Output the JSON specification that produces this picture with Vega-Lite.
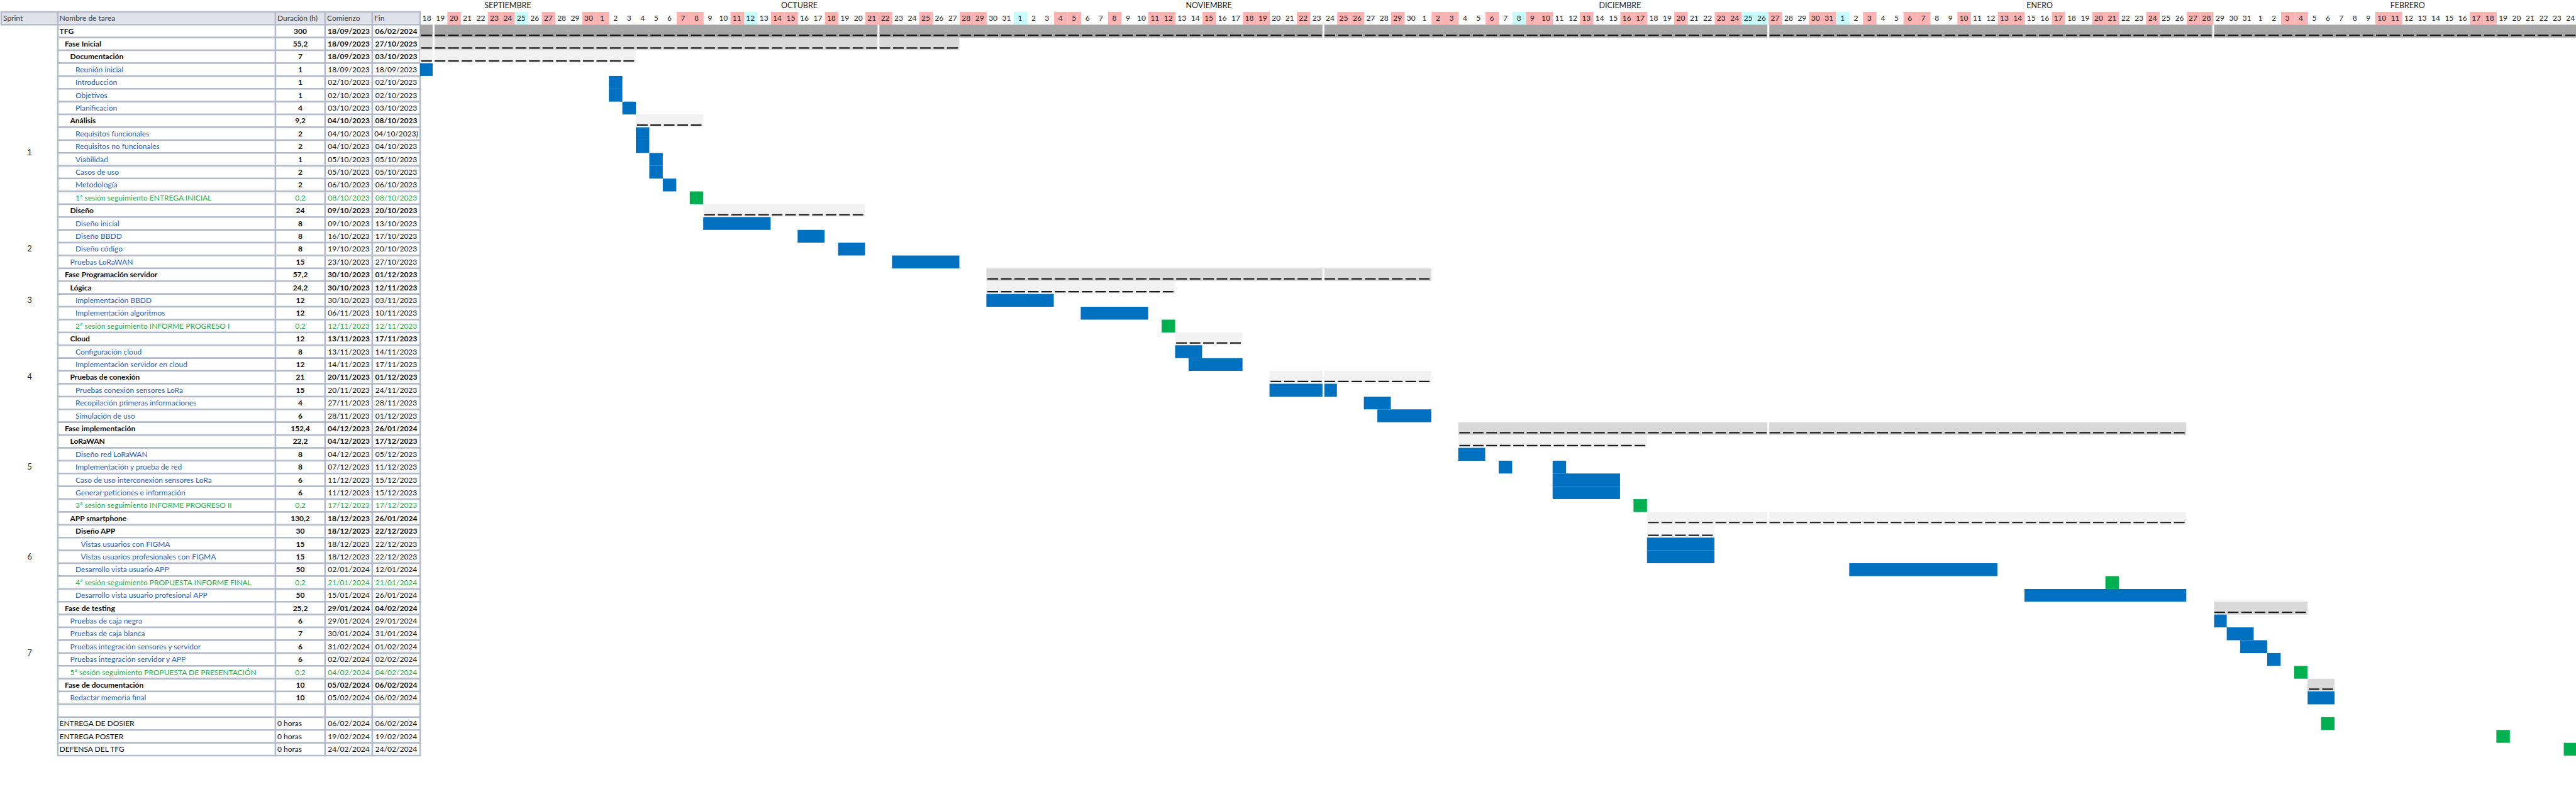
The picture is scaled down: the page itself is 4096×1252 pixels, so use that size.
{
"$schema": "https://vega.github.io/schema/vega-lite/v6.json",
"padding": 0,
"spacing": 0,
"bounds": "flush",
"background": "#ffffff",
"config": {"view": {"stroke": null}, "font": "Lato", "text": {"font": "Lato", "fontSize": 12, "baseline": "middle"}, "axis": {"disable": true}, "legend": {"disable": true}},
"datasets": {
"tasks": [
{"r":0,"n":"Nombre de tarea","lv":0,"k":"h","du":"Duración (h)","c":"Comienzo","f":"Fin"},
{"r":1,"n":"TFG","lv":0,"k":"s","du":"300","c":"18/09/2023","f":"06/02/2024"},
{"r":2,"n":"Fase Inicial","lv":1,"k":"s","du":"55,2","c":"18/09/2023","f":"27/10/2023"},
{"r":3,"n":"Documentación","lv":2,"k":"s","du":"7","c":"18/09/2023","f":"03/10/2023"},
{"r":4,"n":"Reunión inicial","lv":3,"k":"t","du":"1","c":"18/09/2023","f":"18/09/2023"},
{"r":5,"n":"Introducción","lv":3,"k":"t","du":"1","c":"02/10/2023","f":"02/10/2023"},
{"r":6,"n":"Objetivos","lv":3,"k":"t","du":"1","c":"02/10/2023","f":"02/10/2023"},
{"r":7,"n":"Planificación","lv":3,"k":"t","du":"4","c":"03/10/2023","f":"03/10/2023"},
{"r":8,"n":"Análisis","lv":2,"k":"s","du":"9,2","c":"04/10/2023","f":"08/10/2023"},
{"r":9,"n":"Requisitos funcionales","lv":3,"k":"t","du":"2","c":"04/10/2023","f":"04/10/2023)"},
{"r":10,"n":"Requisitos no funcionales","lv":3,"k":"t","du":"2","c":"04/10/2023","f":"04/10/2023"},
{"r":11,"n":"Viabilidad","lv":3,"k":"t","du":"1","c":"05/10/2023","f":"05/10/2023"},
{"r":12,"n":"Casos de uso","lv":3,"k":"t","du":"2","c":"05/10/2023","f":"05/10/2023"},
{"r":13,"n":"Metodología","lv":3,"k":"t","du":"2","c":"06/10/2023","f":"06/10/2023"},
{"r":14,"n":"1ª sesión seguimiento ENTREGA INICIAL","lv":3,"k":"g","du":"0,2","c":"08/10/2023","f":"08/10/2023"},
{"r":15,"n":"Diseño","lv":2,"k":"s","du":"24","c":"09/10/2023","f":"20/10/2023"},
{"r":16,"n":"Diseño inicial","lv":3,"k":"t","du":"8","c":"09/10/2023","f":"13/10/2023"},
{"r":17,"n":"Diseño BBDD","lv":3,"k":"t","du":"8","c":"16/10/2023","f":"17/10/2023"},
{"r":18,"n":"Diseño código","lv":3,"k":"t","du":"8","c":"19/10/2023","f":"20/10/2023"},
{"r":19,"n":"Pruebas LoRaWAN","lv":2,"k":"t","du":"15","c":"23/10/2023","f":"27/10/2023"},
{"r":20,"n":"Fase Programación servidor","lv":1,"k":"s","du":"57,2","c":"30/10/2023","f":"01/12/2023"},
{"r":21,"n":"Lógica","lv":2,"k":"s","du":"24,2","c":"30/10/2023","f":"12/11/2023"},
{"r":22,"n":"Implementación BBDD","lv":3,"k":"t","du":"12","c":"30/10/2023","f":"03/11/2023"},
{"r":23,"n":"Implementación algoritmos","lv":3,"k":"t","du":"12","c":"06/11/2023","f":"10/11/2023"},
{"r":24,"n":"2ª sesión seguimiento INFORME PROGRESO I","lv":3,"k":"g","du":"0,2","c":"12/11/2023","f":"12/11/2023"},
{"r":25,"n":"Cloud","lv":2,"k":"s","du":"12","c":"13/11/2023","f":"17/11/2023"},
{"r":26,"n":"Configuración cloud","lv":3,"k":"t","du":"8","c":"13/11/2023","f":"14/11/2023"},
{"r":27,"n":"Implementación servidor en cloud","lv":3,"k":"t","du":"12","c":"14/11/2023","f":"17/11/2023"},
{"r":28,"n":"Pruebas de conexión","lv":2,"k":"s","du":"21","c":"20/11/2023","f":"01/12/2023"},
{"r":29,"n":"Pruebas conexión sensores LoRa","lv":3,"k":"t","du":"15","c":"20/11/2023","f":"24/11/2023"},
{"r":30,"n":"Recopilación primeras informaciones","lv":3,"k":"t","du":"4","c":"27/11/2023","f":"28/11/2023"},
{"r":31,"n":"Simulación de uso","lv":3,"k":"t","du":"6","c":"28/11/2023","f":"01/12/2023"},
{"r":32,"n":"Fase implementación","lv":1,"k":"s","du":"152,4","c":"04/12/2023","f":"26/01/2024"},
{"r":33,"n":"LoRaWAN","lv":2,"k":"s","du":"22,2","c":"04/12/2023","f":"17/12/2023"},
{"r":34,"n":"Diseño red LoRaWAN","lv":3,"k":"t","du":"8","c":"04/12/2023","f":"05/12/2023"},
{"r":35,"n":"Implementación y prueba de red","lv":3,"k":"t","du":"8","c":"07/12/2023","f":"11/12/2023"},
{"r":36,"n":"Caso de uso interconexión sensores LoRa","lv":3,"k":"t","du":"6","c":"11/12/2023","f":"15/12/2023"},
{"r":37,"n":"Generar peticiones e información","lv":3,"k":"t","du":"6","c":"11/12/2023","f":"15/12/2023"},
{"r":38,"n":"3ª sesión seguimiento INFORME PROGRESO II","lv":3,"k":"g","du":"0,2","c":"17/12/2023","f":"17/12/2023"},
{"r":39,"n":"APP smartphone","lv":2,"k":"s","du":"130,2","c":"18/12/2023","f":"26/01/2024"},
{"r":40,"n":"Diseño APP","lv":3,"k":"s","du":"30","c":"18/12/2023","f":"22/12/2023"},
{"r":41,"n":"Vistas usuarios con FIGMA","lv":4,"k":"t","du":"15","c":"18/12/2023","f":"22/12/2023"},
{"r":42,"n":"Vistas usuarios profesionales con FIGMA","lv":4,"k":"t","du":"15","c":"18/12/2023","f":"22/12/2023"},
{"r":43,"n":"Desarrollo vista usuario APP","lv":3,"k":"t","du":"50","c":"02/01/2024","f":"12/01/2024"},
{"r":44,"n":"4ª sesión seguimiento PROPUESTA INFORME FINAL","lv":3,"k":"g","du":"0,2","c":"21/01/2024","f":"21/01/2024"},
{"r":45,"n":"Desarrollo vista usuario profesional APP","lv":3,"k":"t","du":"50","c":"15/01/2024","f":"26/01/2024"},
{"r":46,"n":"Fase de testing","lv":1,"k":"s","du":"25,2","c":"29/01/2024","f":"04/02/2024"},
{"r":47,"n":"Pruebas de caja negra","lv":2,"k":"t","du":"6","c":"29/01/2024","f":"29/01/2024"},
{"r":48,"n":"Pruebas de caja blanca","lv":2,"k":"t","du":"7","c":"30/01/2024","f":"31/01/2024"},
{"r":49,"n":"Pruebas integración sensores y servidor","lv":2,"k":"t","du":"6","c":"31/02/2024","f":"01/02/2024"},
{"r":50,"n":"Pruebas integración servidor y APP","lv":2,"k":"t","du":"6","c":"02/02/2024","f":"02/02/2024"},
{"r":51,"n":"5ª sesión seguimiento PROPUESTA DE PRESENTACIÓN","lv":2,"k":"g","du":"0,2","c":"04/02/2024","f":"04/02/2024"},
{"r":52,"n":"Fase de documentación","lv":1,"k":"s","du":"10","c":"05/02/2024","f":"06/02/2024"},
{"r":53,"n":"Redactar memoria final","lv":2,"k":"t","du":"10","c":"05/02/2024","f":"06/02/2024"},
{"r":54,"n":"","lv":0,"k":"x","du":"","c":"","f":""},
{"r":55,"n":"ENTREGA DE DOSIER","lv":0,"k":"e","du":"0 horas","c":"06/02/2024","f":"06/02/2024"},
{"r":56,"n":"ENTREGA POSTER","lv":0,"k":"e","du":"0 horas","c":"19/02/2024","f":"19/02/2024"},
{"r":57,"n":"DEFENSA DEL TFG","lv":0,"k":"e","du":"0 horas","c":"24/02/2024","f":"24/02/2024"}
],
"sprints": [{"s":"1","r":10},{"s":"2","r":18},{"s":"3","r":22},{"s":"4","r":28},{"s":"5","r":35},{"s":"6","r":42},{"s":"7","r":49}],
"bars": [
{"r":1,"s":"2023-09-18T00:00","e":"2024-02-25T00:00","t":"0"},
{"r":2,"s":"2023-09-18T00:00","e":"2023-10-28T00:00","t":"1"},
{"r":3,"s":"2023-09-18T00:00","e":"2023-10-04T00:00","t":"2"},
{"r":4,"s":"2023-09-18T00:00","e":"2023-09-19T00:00","t":"b"},
{"r":5,"s":"2023-10-02T00:00","e":"2023-10-03T00:00","t":"b"},
{"r":6,"s":"2023-10-02T00:00","e":"2023-10-03T00:00","t":"b"},
{"r":7,"s":"2023-10-03T00:00","e":"2023-10-04T00:00","t":"b"},
{"r":8,"s":"2023-10-04T00:00","e":"2023-10-09T00:00","t":"2"},
{"r":9,"s":"2023-10-04T00:00","e":"2023-10-05T00:00","t":"b"},
{"r":10,"s":"2023-10-04T00:00","e":"2023-10-05T00:00","t":"b"},
{"r":11,"s":"2023-10-05T00:00","e":"2023-10-06T00:00","t":"b"},
{"r":12,"s":"2023-10-05T00:00","e":"2023-10-06T00:00","t":"b"},
{"r":13,"s":"2023-10-06T00:00","e":"2023-10-07T00:00","t":"b"},
{"r":14,"s":"2023-10-08T00:00","e":"2023-10-09T00:00","t":"g"},
{"r":15,"s":"2023-10-09T00:00","e":"2023-10-21T00:00","t":"2"},
{"r":16,"s":"2023-10-09T00:00","e":"2023-10-14T00:00","t":"b"},
{"r":17,"s":"2023-10-16T00:00","e":"2023-10-18T00:00","t":"b"},
{"r":18,"s":"2023-10-19T00:00","e":"2023-10-21T00:00","t":"b"},
{"r":19,"s":"2023-10-23T00:00","e":"2023-10-28T00:00","t":"b"},
{"r":20,"s":"2023-10-30T00:00","e":"2023-12-02T00:00","t":"1"},
{"r":21,"s":"2023-10-30T00:00","e":"2023-11-13T00:00","t":"2"},
{"r":22,"s":"2023-10-30T00:00","e":"2023-11-04T00:00","t":"b"},
{"r":23,"s":"2023-11-06T00:00","e":"2023-11-11T00:00","t":"b"},
{"r":24,"s":"2023-11-12T00:00","e":"2023-11-13T00:00","t":"g"},
{"r":25,"s":"2023-11-13T00:00","e":"2023-11-18T00:00","t":"2"},
{"r":26,"s":"2023-11-13T00:00","e":"2023-11-15T00:00","t":"b"},
{"r":27,"s":"2023-11-14T00:00","e":"2023-11-18T00:00","t":"b"},
{"r":28,"s":"2023-11-20T00:00","e":"2023-12-02T00:00","t":"2"},
{"r":29,"s":"2023-11-20T00:00","e":"2023-11-25T00:00","t":"b"},
{"r":30,"s":"2023-11-27T00:00","e":"2023-11-29T00:00","t":"b"},
{"r":31,"s":"2023-11-28T00:00","e":"2023-12-02T00:00","t":"b"},
{"r":32,"s":"2023-12-04T00:00","e":"2024-01-27T00:00","t":"1"},
{"r":33,"s":"2023-12-04T00:00","e":"2023-12-18T00:00","t":"2"},
{"r":34,"s":"2023-12-04T00:00","e":"2023-12-06T00:00","t":"b"},
{"r":35,"s":"2023-12-07T00:00","e":"2023-12-08T00:00","t":"b"},
{"r":35,"s":"2023-12-11T00:00","e":"2023-12-12T00:00","t":"b"},
{"r":36,"s":"2023-12-11T00:00","e":"2023-12-16T00:00","t":"b"},
{"r":37,"s":"2023-12-11T00:00","e":"2023-12-16T00:00","t":"b"},
{"r":38,"s":"2023-12-17T00:00","e":"2023-12-18T00:00","t":"g"},
{"r":39,"s":"2023-12-18T00:00","e":"2024-01-27T00:00","t":"2"},
{"r":40,"s":"2023-12-18T00:00","e":"2023-12-23T00:00","t":"3"},
{"r":41,"s":"2023-12-18T00:00","e":"2023-12-23T00:00","t":"b"},
{"r":42,"s":"2023-12-18T00:00","e":"2023-12-23T00:00","t":"b"},
{"r":43,"s":"2024-01-02T00:00","e":"2024-01-13T00:00","t":"b"},
{"r":44,"s":"2024-01-21T00:00","e":"2024-01-22T00:00","t":"g"},
{"r":45,"s":"2024-01-15T00:00","e":"2024-01-27T00:00","t":"b"},
{"r":46,"s":"2024-01-29T00:00","e":"2024-02-05T00:00","t":"1"},
{"r":47,"s":"2024-01-29T00:00","e":"2024-01-30T00:00","t":"b"},
{"r":48,"s":"2024-01-30T00:00","e":"2024-02-01T00:00","t":"b"},
{"r":49,"s":"2024-01-31T00:00","e":"2024-02-02T00:00","t":"b"},
{"r":50,"s":"2024-02-02T00:00","e":"2024-02-03T00:00","t":"b"},
{"r":51,"s":"2024-02-04T00:00","e":"2024-02-05T00:00","t":"g"},
{"r":52,"s":"2024-02-05T00:00","e":"2024-02-07T00:00","t":"1"},
{"r":53,"s":"2024-02-05T00:00","e":"2024-02-07T00:00","t":"b"},
{"r":55,"s":"2024-02-06T00:00","e":"2024-02-07T00:00","t":"g"},
{"r":56,"s":"2024-02-19T00:00","e":"2024-02-20T00:00","t":"g"},
{"r":57,"s":"2024-02-24T00:00","e":"2024-02-25T00:00","t":"g"}
],
"months": [{"m":"SEPTIEMBRE","d":"2023-09-24T12:00"},{"m":"OCTUBRE","d":"2023-10-16T03:00"},{"m":"NOVIEMBRE","d":"2023-11-15T12:00"},{"m":"DICIEMBRE","d":"2023-12-16T00:00"},{"m":"ENERO","d":"2024-01-16T03:00"},{"m":"FEBRERO","d":"2024-02-12T10:00"}],
"seams": [{"d":"2023-09-19T00:00"},{"d":"2023-10-22T00:00"},{"d":"2023-11-24T00:00"},{"d":"2023-12-27T00:00"},{"d":"2024-01-29T00:00"}],
"days": [
{"d":"2023-09-18T00:00"},{"d":"2023-09-19T00:00"},{"d":"2023-09-20T00:00","k":"p"},{"d":"2023-09-21T00:00"},{"d":"2023-09-22T00:00"},{"d":"2023-09-23T00:00","k":"p"},{"d":"2023-09-24T00:00","k":"p"},{"d":"2023-09-25T00:00","k":"c"},{"d":"2023-09-26T00:00"},{"d":"2023-09-27T00:00","k":"p"},{"d":"2023-09-28T00:00"},{"d":"2023-09-29T00:00"},{"d":"2023-09-30T00:00","k":"p"},
{"d":"2023-10-01T00:00","k":"p"},{"d":"2023-10-02T00:00"},{"d":"2023-10-03T00:00"},{"d":"2023-10-04T00:00"},{"d":"2023-10-05T00:00"},{"d":"2023-10-06T00:00"},{"d":"2023-10-07T00:00","k":"p"},{"d":"2023-10-08T00:00","k":"p"},{"d":"2023-10-09T00:00"},{"d":"2023-10-10T00:00"},{"d":"2023-10-11T00:00","k":"p"},{"d":"2023-10-12T00:00","k":"c"},{"d":"2023-10-13T00:00"},{"d":"2023-10-14T00:00","k":"p"},{"d":"2023-10-15T00:00","k":"p"},{"d":"2023-10-16T00:00"},{"d":"2023-10-17T00:00"},{"d":"2023-10-18T00:00","k":"p"},{"d":"2023-10-19T00:00"},{"d":"2023-10-20T00:00"},{"d":"2023-10-21T00:00","k":"p"},{"d":"2023-10-22T00:00","k":"p"},{"d":"2023-10-23T00:00"},{"d":"2023-10-24T00:00"},{"d":"2023-10-25T00:00","k":"p"},{"d":"2023-10-26T00:00"},{"d":"2023-10-27T00:00"},{"d":"2023-10-28T00:00","k":"p"},{"d":"2023-10-29T00:00","k":"p"},{"d":"2023-10-30T00:00"},{"d":"2023-10-31T00:00"},
{"d":"2023-11-01T00:00","k":"c"},{"d":"2023-11-02T00:00"},{"d":"2023-11-03T00:00"},{"d":"2023-11-04T00:00","k":"p"},{"d":"2023-11-05T00:00","k":"p"},{"d":"2023-11-06T00:00"},{"d":"2023-11-07T00:00"},{"d":"2023-11-08T00:00","k":"p"},{"d":"2023-11-09T00:00"},{"d":"2023-11-10T00:00"},{"d":"2023-11-11T00:00","k":"p"},{"d":"2023-11-12T00:00","k":"p"},{"d":"2023-11-13T00:00"},{"d":"2023-11-14T00:00"},{"d":"2023-11-15T00:00","k":"p"},{"d":"2023-11-16T00:00"},{"d":"2023-11-17T00:00"},{"d":"2023-11-18T00:00","k":"p"},{"d":"2023-11-19T00:00","k":"p"},{"d":"2023-11-20T00:00"},{"d":"2023-11-21T00:00"},{"d":"2023-11-22T00:00","k":"p"},{"d":"2023-11-23T00:00"},{"d":"2023-11-24T00:00"},{"d":"2023-11-25T00:00","k":"p"},{"d":"2023-11-26T00:00","k":"p"},{"d":"2023-11-27T00:00"},{"d":"2023-11-28T00:00"},{"d":"2023-11-29T00:00","k":"p"},{"d":"2023-11-30T00:00"},
{"d":"2023-12-01T00:00"},{"d":"2023-12-02T00:00","k":"p"},{"d":"2023-12-03T00:00","k":"p"},{"d":"2023-12-04T00:00"},{"d":"2023-12-05T00:00"},{"d":"2023-12-06T00:00","k":"p"},{"d":"2023-12-07T00:00"},{"d":"2023-12-08T00:00","k":"c"},{"d":"2023-12-09T00:00","k":"p"},{"d":"2023-12-10T00:00","k":"p"},{"d":"2023-12-11T00:00"},{"d":"2023-12-12T00:00"},{"d":"2023-12-13T00:00","k":"p"},{"d":"2023-12-14T00:00"},{"d":"2023-12-15T00:00"},{"d":"2023-12-16T00:00","k":"p"},{"d":"2023-12-17T00:00","k":"p"},{"d":"2023-12-18T00:00"},{"d":"2023-12-19T00:00"},{"d":"2023-12-20T00:00","k":"p"},{"d":"2023-12-21T00:00"},{"d":"2023-12-22T00:00"},{"d":"2023-12-23T00:00","k":"p"},{"d":"2023-12-24T00:00","k":"p"},{"d":"2023-12-25T00:00","k":"c"},{"d":"2023-12-26T00:00","k":"c"},{"d":"2023-12-27T00:00","k":"p"},{"d":"2023-12-28T00:00"},{"d":"2023-12-29T00:00"},{"d":"2023-12-30T00:00","k":"p"},{"d":"2023-12-31T00:00","k":"p"},
{"d":"2024-01-01T00:00","k":"c"},{"d":"2024-01-02T00:00"},{"d":"2024-01-03T00:00","k":"p"},{"d":"2024-01-04T00:00"},{"d":"2024-01-05T00:00"},{"d":"2024-01-06T00:00","k":"p"},{"d":"2024-01-07T00:00","k":"p"},{"d":"2024-01-08T00:00"},{"d":"2024-01-09T00:00"},{"d":"2024-01-10T00:00","k":"p"},{"d":"2024-01-11T00:00"},{"d":"2024-01-12T00:00"},{"d":"2024-01-13T00:00","k":"p"},{"d":"2024-01-14T00:00","k":"p"},{"d":"2024-01-15T00:00"},{"d":"2024-01-16T00:00"},{"d":"2024-01-17T00:00","k":"p"},{"d":"2024-01-18T00:00"},{"d":"2024-01-19T00:00"},{"d":"2024-01-20T00:00","k":"p"},{"d":"2024-01-21T00:00","k":"p"},{"d":"2024-01-22T00:00"},{"d":"2024-01-23T00:00"},{"d":"2024-01-24T00:00","k":"p"},{"d":"2024-01-25T00:00"},{"d":"2024-01-26T00:00"},{"d":"2024-01-27T00:00","k":"p"},{"d":"2024-01-28T00:00","k":"p"},{"d":"2024-01-29T00:00"},{"d":"2024-01-30T00:00"},{"d":"2024-01-31T00:00"},
{"d":"2024-02-01T00:00"},{"d":"2024-02-02T00:00"},{"d":"2024-02-03T00:00","k":"p"},{"d":"2024-02-04T00:00","k":"p"},{"d":"2024-02-05T00:00"},{"d":"2024-02-06T00:00"},{"d":"2024-02-07T00:00"},{"d":"2024-02-08T00:00"},{"d":"2024-02-09T00:00"},{"d":"2024-02-10T00:00","k":"p"},{"d":"2024-02-11T00:00","k":"p"},{"d":"2024-02-12T00:00"},{"d":"2024-02-13T00:00"},{"d":"2024-02-14T00:00"},{"d":"2024-02-15T00:00"},{"d":"2024-02-16T00:00"},{"d":"2024-02-17T00:00","k":"p"},{"d":"2024-02-18T00:00","k":"p"},{"d":"2024-02-19T00:00"},{"d":"2024-02-20T00:00"},{"d":"2024-02-21T00:00"},{"d":"2024-02-22T00:00"},{"d":"2024-02-23T00:00"},{"d":"2024-02-24T00:00"}
]
},
"hconcat": [
{
"width": 90, "height": 1252,
"encoding": {"y": {"field": "r", "type": "ordinal", "axis": null, "scale": {"domain": [-1,0,1,2,3,4,5,6,7,8,9,10,11,12,13,14,15,16,17,18,19,20,21,22,23,24,25,26,27,28,29,30,31,32,33,34,35,36,37,38,39,40,41,42,43,44,45,46,47,48,49,50,51,52,53,54,55,56,57,58], "range": [-1.5,1222.5], "paddingInner": 0, "paddingOuter": 0}}},
"layer": [
{"data": {"values": [{"r": 0, "h": "Sprint"}]}, "mark": {"type": "rect", "fill": "#dfe2e8", "stroke": "#b4bccc", "strokeWidth": 2.5}},
{"data": {"values": [{"r": 0, "h": "Sprint"}]}, "mark": {"type": "text", "align": "left", "color": "#3a3a3a"}, "encoding": {"text": {"field": "h"}, "x": {"datum": 0, "type": "quantitative", "axis": null, "scale": {"domain": [0,1], "range": [3,80]}}}},
{"data": {"name": "sprints"}, "transform": [{"filter": "datum.s!='1' && datum.s!='7'"}], "mark": {"type": "text", "color": "#222222", "fontSize": 12.5}, "encoding": {"text": {"field": "s"}}},
{"data": {"name": "sprints"}, "transform": [{"filter": "datum.s=='1' || datum.s=='7'"}], "mark": {"type": "text", "color": "#222222", "fontSize": 12.5}, "encoding": {"text": {"field": "s"}, "y": {"field": "r", "type": "ordinal", "bandPosition": 1, "axis": null, "scale": {"domain": [-1,0,1,2,3,4,5,6,7,8,9,10,11,12,13,14,15,16,17,18,19,20,21,22,23,24,25,26,27,28,29,30,31,32,33,34,35,36,37,38,39,40,41,42,43,44,45,46,47,48,49,50,51,52,53,54,55,56,57,58], "range": [-1.5,1222.5], "paddingInner": 0, "paddingOuter": 0}}}}
]
},
{
"width": 346, "height": 1252,
"data": {"name": "tasks"},
"encoding": {"y": {"field": "r", "type": "ordinal", "axis": null, "scale": {"domain": [-1,0,1,2,3,4,5,6,7,8,9,10,11,12,13,14,15,16,17,18,19,20,21,22,23,24,25,26,27,28,29,30,31,32,33,34,35,36,37,38,39,40,41,42,43,44,45,46,47,48,49,50,51,52,53,54,55,56,57,58], "range": [-1.5,1222.5], "paddingInner": 0, "paddingOuter": 0}}},
"layer": [
{"mark": {"type": "rect", "stroke": "#b4bccc", "strokeWidth": 2.5}, "encoding": {"fill": {"condition": {"test": "datum.r==0", "value": "#dfe2e8"}, "value": "#ffffff"}}},
{"transform": [{"filter": "datum.k!='s'"}], "mark": {"type": "text", "align": "left"}, "encoding": {"text": {"field": "n"}, "x": {"field": "lv", "type": "quantitative", "axis": null, "scale": {"domain": [0,4], "range": [2.5,36.5]}}, "color": {"condition": [{"test": "datum.k=='t'", "value": "#2a63b9"}, {"test": "datum.k=='g'", "value": "#27ae4a"}, {"test": "datum.k=='h'", "value": "#3a3a3a"}], "value": "#111111"}}},
{"transform": [{"filter": "datum.k=='s'"}], "mark": {"type": "text", "align": "left", "fontWeight": "bold", "color": "#111111"}, "encoding": {"text": {"field": "n"}, "x": {"field": "lv", "type": "quantitative", "axis": null, "scale": {"domain": [0,4], "range": [2.5,36.5]}}}}
]
},
{
"width": 79, "height": 1252,
"data": {"name": "tasks"},
"encoding": {"y": {"field": "r", "type": "ordinal", "axis": null, "scale": {"domain": [-1,0,1,2,3,4,5,6,7,8,9,10,11,12,13,14,15,16,17,18,19,20,21,22,23,24,25,26,27,28,29,30,31,32,33,34,35,36,37,38,39,40,41,42,43,44,45,46,47,48,49,50,51,52,53,54,55,56,57,58], "range": [-1.5,1222.5], "paddingInner": 0, "paddingOuter": 0}}},
"layer": [
{"mark": {"type": "rect", "stroke": "#b4bccc", "strokeWidth": 2.5}, "encoding": {"fill": {"condition": {"test": "datum.r==0", "value": "#dfe2e8"}, "value": "#ffffff"}}},
{"transform": [{"filter": "datum.k=='h' || datum.k=='e'"}], "mark": {"type": "text", "align": "left"}, "encoding": {"text": {"field": "du"}, "x": {"datum": 0, "type": "quantitative", "axis": null, "scale": {"domain": [0,1], "range": [3,70]}}, "color": {"condition": {"test": "datum.k=='h'", "value": "#3a3a3a"}, "value": "#111111"}}},
{"transform": [{"filter": "datum.k=='s' || datum.k=='t'"}], "mark": {"type": "text", "fontWeight": "bold", "color": "#111111"}, "encoding": {"text": {"field": "du"}}},
{"transform": [{"filter": "datum.k=='g'"}], "mark": {"type": "text", "color": "#27ae4a"}, "encoding": {"text": {"field": "du"}}}
]
},
{
"width": 75, "height": 1252,
"data": {"name": "tasks"},
"encoding": {"y": {"field": "r", "type": "ordinal", "axis": null, "scale": {"domain": [-1,0,1,2,3,4,5,6,7,8,9,10,11,12,13,14,15,16,17,18,19,20,21,22,23,24,25,26,27,28,29,30,31,32,33,34,35,36,37,38,39,40,41,42,43,44,45,46,47,48,49,50,51,52,53,54,55,56,57,58], "range": [-1.5,1222.5], "paddingInner": 0, "paddingOuter": 0}}},
"layer": [
{"mark": {"type": "rect", "stroke": "#b4bccc", "strokeWidth": 2.5}, "encoding": {"fill": {"condition": {"test": "datum.r==0", "value": "#dfe2e8"}, "value": "#ffffff"}}},
{"transform": [{"filter": "datum.k=='h'"}], "mark": {"type": "text", "align": "left", "color": "#3a3a3a"}, "encoding": {"text": {"field": "c"}, "x": {"datum": 0, "type": "quantitative", "axis": null, "scale": {"domain": [0,1], "range": [3,70]}}}},
{"transform": [{"filter": "datum.k=='s'"}], "mark": {"type": "text", "fontWeight": "bold", "color": "#111111"}, "encoding": {"text": {"field": "c"}}},
{"transform": [{"filter": "datum.k=='t' || datum.k=='g' || datum.k=='e'"}], "mark": {"type": "text"}, "encoding": {"text": {"field": "c"}, "color": {"condition": {"test": "datum.k=='g'", "value": "#27ae4a"}, "value": "#111111"}}}
]
},
{
"width": 76, "height": 1252,
"data": {"name": "tasks"},
"encoding": {"y": {"field": "r", "type": "ordinal", "axis": null, "scale": {"domain": [-1,0,1,2,3,4,5,6,7,8,9,10,11,12,13,14,15,16,17,18,19,20,21,22,23,24,25,26,27,28,29,30,31,32,33,34,35,36,37,38,39,40,41,42,43,44,45,46,47,48,49,50,51,52,53,54,55,56,57,58], "range": [-1.5,1222.5], "paddingInner": 0, "paddingOuter": 0}}},
"layer": [
{"mark": {"type": "rect", "stroke": "#b4bccc", "strokeWidth": 2.5}, "encoding": {"fill": {"condition": {"test": "datum.r==0", "value": "#dfe2e8"}, "value": "#ffffff"}}},
{"transform": [{"filter": "datum.k=='h'"}], "mark": {"type": "text", "align": "left", "color": "#3a3a3a"}, "encoding": {"text": {"field": "f"}, "x": {"datum": 0, "type": "quantitative", "axis": null, "scale": {"domain": [0,1], "range": [3,70]}}}},
{"transform": [{"filter": "datum.k=='s'"}], "mark": {"type": "text", "fontWeight": "bold", "color": "#111111"}, "encoding": {"text": {"field": "f"}}},
{"transform": [{"filter": "datum.k=='t' || datum.k=='g' || datum.k=='e'"}], "mark": {"type": "text"}, "encoding": {"text": {"field": "f"}, "color": {"condition": {"test": "datum.k=='g'", "value": "#27ae4a"}, "value": "#111111"}}}
]
},
{
"width": 3430, "height": 1252,
"layer": [
{"data": {"name": "days"}, "transform": [{"filter": "datum.k"}], "mark": {"type": "rect"}, "encoding": {
 "x": {"field": "d", "type": "temporal", "timeUnit": "yearmonthdate", "axis": null, "scale": {"domain": [{"year": 2023, "month": 9, "date": 18}, {"year": 2024, "month": 2, "date": 25}]}},
 "y": {"datum": 0, "type": "ordinal", "axis": null, "scale": {"domain": [-1,0,1,2,3,4,5,6,7,8,9,10,11,12,13,14,15,16,17,18,19,20,21,22,23,24,25,26,27,28,29,30,31,32,33,34,35,36,37,38,39,40,41,42,43,44,45,46,47,48,49,50,51,52,53,54,55,56,57,58], "range": [-1.5,1222.5], "paddingInner": 0, "paddingOuter": 0}},
 "fill": {"condition": {"test": "datum.k=='c'", "value": "#c6fcfc"}, "value": "#ffb3b3"}}},
{"data": {"name": "days"}, "mark": {"type": "text", "color": "#222222"}, "encoding": {
 "x": {"field": "d", "type": "temporal", "timeUnit": "yearmonthdate", "bandPosition": 0.5, "axis": null, "scale": {"domain": [{"year": 2023, "month": 9, "date": 18}, {"year": 2024, "month": 2, "date": 25}]}},
 "y": {"datum": 0, "type": "ordinal", "axis": null, "scale": {"domain": [-1,0,1,2,3,4,5,6,7,8,9,10,11,12,13,14,15,16,17,18,19,20,21,22,23,24,25,26,27,28,29,30,31,32,33,34,35,36,37,38,39,40,41,42,43,44,45,46,47,48,49,50,51,52,53,54,55,56,57,58], "range": [-1.5,1222.5], "paddingInner": 0, "paddingOuter": 0}},
 "text": {"field": "d", "type": "temporal", "format": "%-d"}}},
{"data": {"name": "months"}, "mark": {"type": "text", "color": "#222222", "fontSize": 12.5}, "encoding": {
 "x": {"field": "d", "type": "temporal", "axis": null, "scale": {"domain": [{"year": 2023, "month": 9, "date": 18}, {"year": 2024, "month": 2, "date": 25}]}},
 "y": {"datum": -1, "type": "ordinal", "axis": null, "scale": {"domain": [-1,0,1,2,3,4,5,6,7,8,9,10,11,12,13,14,15,16,17,18,19,20,21,22,23,24,25,26,27,28,29,30,31,32,33,34,35,36,37,38,39,40,41,42,43,44,45,46,47,48,49,50,51,52,53,54,55,56,57,58], "range": [-1.5,1222.5], "paddingInner": 0, "paddingOuter": 0}},
 "text": {"field": "m"}}},
{"data": {"name": "bars"}, "mark": {"type": "rect"}, "encoding": {
 "x": {"field": "s", "type": "temporal", "axis": null, "scale": {"domain": [{"year": 2023, "month": 9, "date": 18}, {"year": 2024, "month": 2, "date": 25}]}},
 "x2": {"field": "e"},
 "y": {"field": "r", "type": "ordinal", "axis": null, "scale": {"domain": [-1,0,1,2,3,4,5,6,7,8,9,10,11,12,13,14,15,16,17,18,19,20,21,22,23,24,25,26,27,28,29,30,31,32,33,34,35,36,37,38,39,40,41,42,43,44,45,46,47,48,49,50,51,52,53,54,55,56,57,58], "range": [-1.5,1222.5], "paddingInner": 0, "paddingOuter": 0}},
 "fill": {"condition": [{"test": "datum.t=='0'", "value": "#a6a6a6"}, {"test": "datum.t=='1'", "value": "#d9d9d9"}, {"test": "datum.t=='2'", "value": "#f2f2f2"}, {"test": "datum.t=='3'", "value": "#f6f6f6"}, {"test": "datum.t=='g'", "value": "#00b050"}], "value": "#0070c0"}}},
{"data": {"name": "bars"}, "transform": [{"filter": "datum.t=='0' || datum.t=='1' || datum.t=='2' || datum.t=='3'"}], "mark": {"type": "rule", "color": "#1a1a1a", "strokeWidth": 2.2, "strokeDash": [17, 4.4375], "strokeDashOffset": 19.7}, "encoding": {
 "x": {"field": "s", "type": "temporal", "axis": null, "scale": {"domain": [{"year": 2023, "month": 9, "date": 18}, {"year": 2024, "month": 2, "date": 25}]}},
 "x2": {"field": "e"},
 "y": {"field": "r", "type": "ordinal", "bandPosition": 0.82, "axis": null, "scale": {"domain": [-1,0,1,2,3,4,5,6,7,8,9,10,11,12,13,14,15,16,17,18,19,20,21,22,23,24,25,26,27,28,29,30,31,32,33,34,35,36,37,38,39,40,41,42,43,44,45,46,47,48,49,50,51,52,53,54,55,56,57,58], "range": [-1.5,1222.5], "paddingInner": 0, "paddingOuter": 0}}}},
{"data": {"name": "seams"}, "mark": {"type": "rule", "color": "#ffffff", "strokeWidth": 3}, "encoding": {
 "x": {"field": "d", "type": "temporal", "axis": null, "scale": {"domain": [{"year": 2023, "month": 9, "date": 18}, {"year": 2024, "month": 2, "date": 25}]}},
 "y": {"datum": 1, "type": "ordinal", "bandPosition": 0, "axis": null, "scale": {"domain": [-1,0,1,2,3,4,5,6,7,8,9,10,11,12,13,14,15,16,17,18,19,20,21,22,23,24,25,26,27,28,29,30,31,32,33,34,35,36,37,38,39,40,41,42,43,44,45,46,47,48,49,50,51,52,53,54,55,56,57,58], "range": [-1.5,1222.5], "paddingInner": 0, "paddingOuter": 0}},
 "y2": {"datum": 58}}}
]
}
]
}
